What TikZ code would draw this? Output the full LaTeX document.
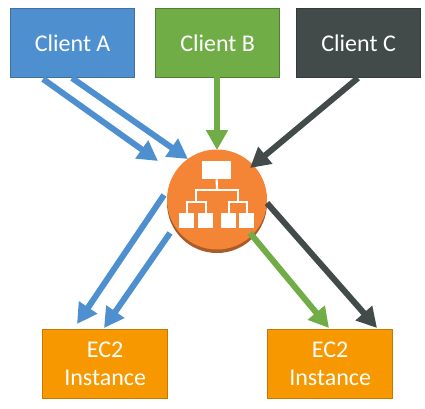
\documentclass[tikz,border=0pt]{standalone}
\usepackage{fontspec}
\setmainfont{Carlito}
\usetikzlibrary{arrows.meta}
\definecolor{cblue}{HTML}{4E90CF}
\definecolor{cblueb}{HTML}{41719C}
\definecolor{cgreen}{HTML}{70AD47}
\definecolor{cgreenb}{HTML}{507E32}
\definecolor{cdark}{HTML}{424A4A}
\definecolor{cdarkb}{HTML}{333A3A}
\definecolor{corange}{HTML}{F58536}
\definecolor{cshadow}{HTML}{A85C2A}
\definecolor{cec}{HTML}{F79800}
\definecolor{cecb}{HTML}{C47A00}
\tikzset{
 clientbox/.style={draw=#1, line width=1.3pt, minimum width=124pt, minimum height=69pt, inner sep=0pt, text=white, font=\fontsize{24}{28}\selectfont, anchor=north west},
 ecbox/.style={draw=cecb, fill=cec, line width=1.3pt, minimum width=125pt, minimum height=69pt, inner sep=0pt, text=white, font=\fontsize{24}{28}\selectfont, align=center, anchor=north west},
 flow/.style={draw=#1, line width=6pt, -{Triangle[length=20pt,width=21pt,fill=#1]}, shorten >=0pt},
 iconbox/.style={fill=white, inner sep=0pt, anchor=north west},
 iconline/.style={draw=white, line width=2.2pt},
}
\begin{document}
\begin{tikzpicture}[x=1pt,y=-1pt]
\useasboundingbox (0,0) rectangle (425,408);
\node[clientbox=cblueb, fill=cblue] (ca) at (10,8) {Client A};
\node[clientbox=cgreenb, fill=cgreen] (cb) at (155,8) {Client B};
\node[clientbox=cdarkb, fill=cdark] (cc) at (296,8) {Client C};
\node[ecbox] (e1) at (42,329) {EC2\\Instance};
\node[ecbox] (e2) at (267,329) {EC2\\Instance};
% load balancer
\node[circle, fill=cshadow, minimum size=100pt, inner sep=0pt] (lbs) at (217,203) {};
\node[circle, fill=corange, minimum size=100pt, inner sep=0pt] (lb) at (217,199.5) {};
% icon
\node[iconbox, minimum width=29pt, minimum height=18pt] (top) at (202,161) {};
\node[iconbox, minimum width=15pt, minimum height=15pt] (s1) at (179,213) {};
\node[iconbox, minimum width=15pt, minimum height=15pt] (s2) at (198,213) {};
\node[iconbox, minimum width=15pt, minimum height=15pt] (s3) at (221,213) {};
\node[iconbox, minimum width=15pt, minimum height=15pt] (s4) at (239,213) {};
\coordinate (j0) at (217,190);
\coordinate (jl) at (196,202);
\coordinate (jr) at (238,202);
\draw[iconline] (top.south) -- (j0);
\draw[iconline] (jl) |- (j0) -| (jr);
\draw[iconline] (s1.north) |- (jl) -| (s2.north);
\draw[iconline] (s3.north) |- (jr) -| (s4.north);
% connector ends
\coordinate (a1s) at (43,79);  \coordinate (a1t) at (158,161);
\coordinate (a2s) at (72,78);  \coordinate (a2t) at (188,159);
\coordinate (bs) at (217,77);  \coordinate (bt) at (217,150);
\coordinate (cs) at (358,78);  \coordinate (ct) at (250,168);
\coordinate (d1s) at (164,195); \coordinate (d1t) at (77,324);
\coordinate (d2s) at (170,233); \coordinate (d2t) at (104,328);
\coordinate (d3s) at (250,233); \coordinate (d3t) at (329,328);
\coordinate (d4s) at (267,203); \coordinate (d4t) at (377,328);
\draw[flow=cblue] (a1s) -- (a1t);
\draw[flow=cblue] (a2s) -- (a2t);
\draw[flow=cgreen] (bs) -- (bt);
\draw[flow=cdark] (cs) -- (ct);
\draw[flow=cblue] (d1s) -- (d1t);
\draw[flow=cblue] (d2s) -- (d2t);
\draw[flow=cdark] (d4s) -- (d4t);
\draw[flow=cgreen] (d3s) -- (d3t);
\end{tikzpicture}
\end{document}
